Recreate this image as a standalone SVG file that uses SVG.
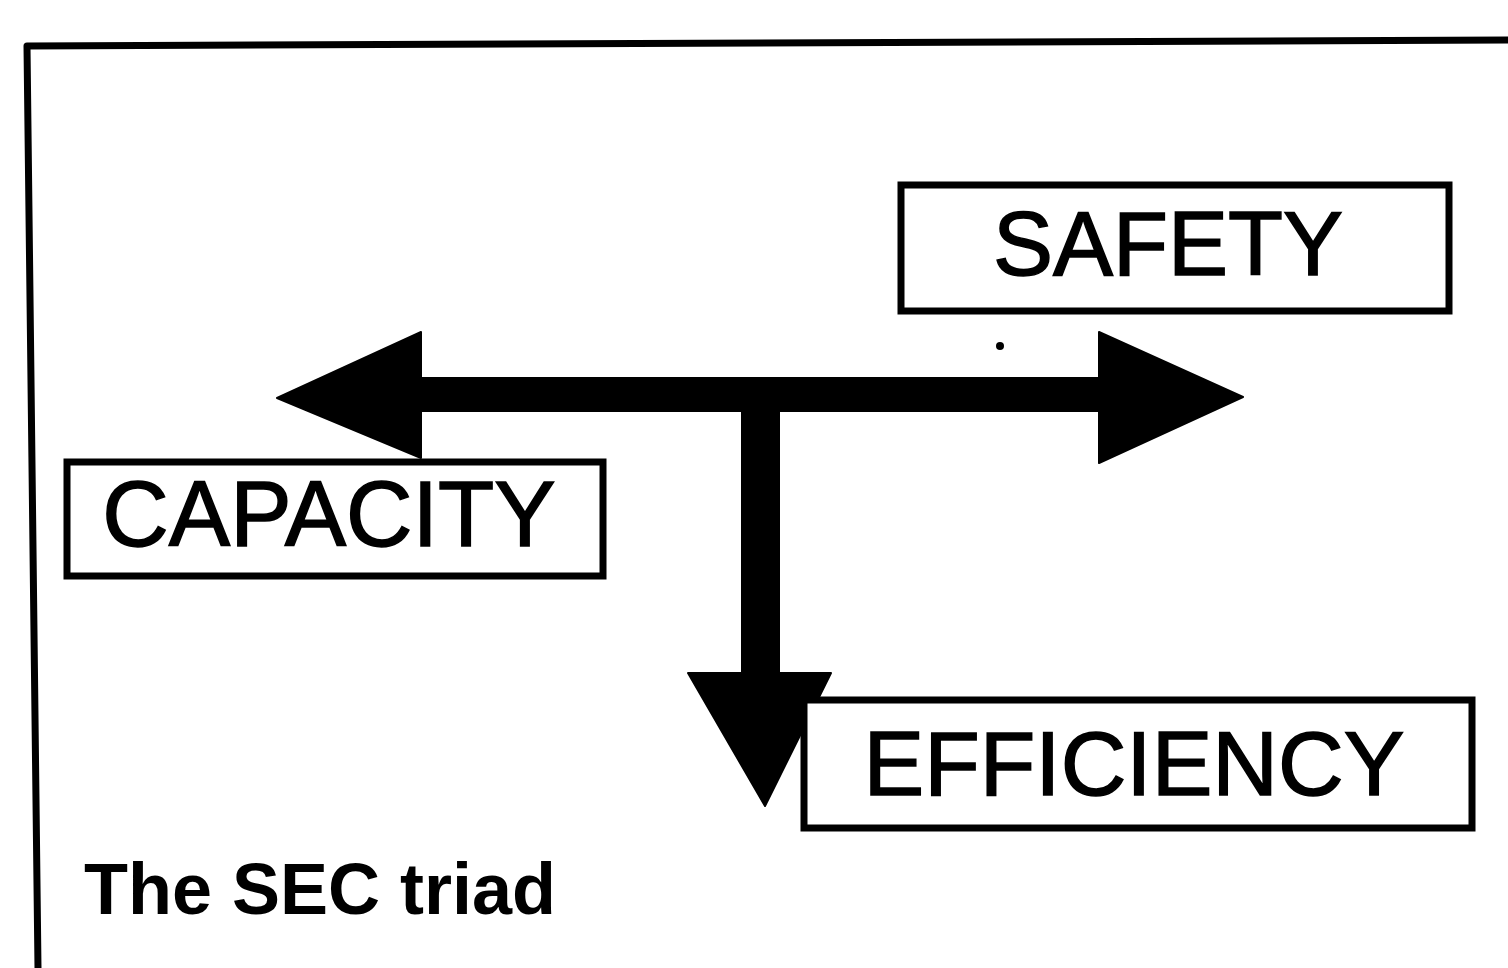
<svg xmlns="http://www.w3.org/2000/svg" width="1508" height="968" viewBox="0 0 1508 968">
  <style>
    .frame { fill: none; stroke: #000; stroke-width: 7; stroke-linejoin: round; }
    .box { fill: #fff; stroke: #000; stroke-width: 7; }
    .label { font-family: "Liberation Sans", Arial, sans-serif; font-size: 90px; fill: #000; stroke: #000; stroke-width: 1.5; text-anchor: middle; }
    .caption { font-family: "Liberation Sans", Arial, sans-serif; font-size: 72px; font-weight: bold; fill: #000; }
    .arrow { fill: #000; stroke: #000; stroke-width: 2; stroke-linejoin: round; }
  </style>
  <rect width="1508" height="968" fill="#fff"/>

  <!-- outer frame (open on the right and bottom) -->
  <path class="frame" d="M1508,40 L27,46 L38,968"/>

  <!-- T-shaped triple arrow -->
  <g id="connectors">
    <path class="arrow" d="M277,398 L421,332 L421,378 L1099,378 L1099,332 L1243,397 L1099,463 L1099,411 L779,411 L779,673 L831,673 L765,806 L688,673 L742,673 L742,411 L421,411 L421,458 Z"/>
    <circle cx="1000" cy="346" r="4" fill="#000"/>
  </g>

  <g id="safety">
    <rect class="box" x="901" y="185" width="548" height="126"/>
    <text class="label" x="1168" y="275">SAFETY</text>
  </g>

  <g id="capacity">
    <rect class="box" x="67" y="462" width="536" height="114"/>
    <text class="label" x="329" y="546" style="font-size:92px">CAPACITY</text>
  </g>

  <g id="efficiency">
    <rect class="box" x="804" y="700" width="668" height="128"/>
    <text class="label" x="1134" y="795" style="font-size:91px">EFFICIENCY</text>
  </g>

  <g id="caption">
    <text class="caption" x="84" y="914">The SEC triad</text>
  </g>
</svg>
